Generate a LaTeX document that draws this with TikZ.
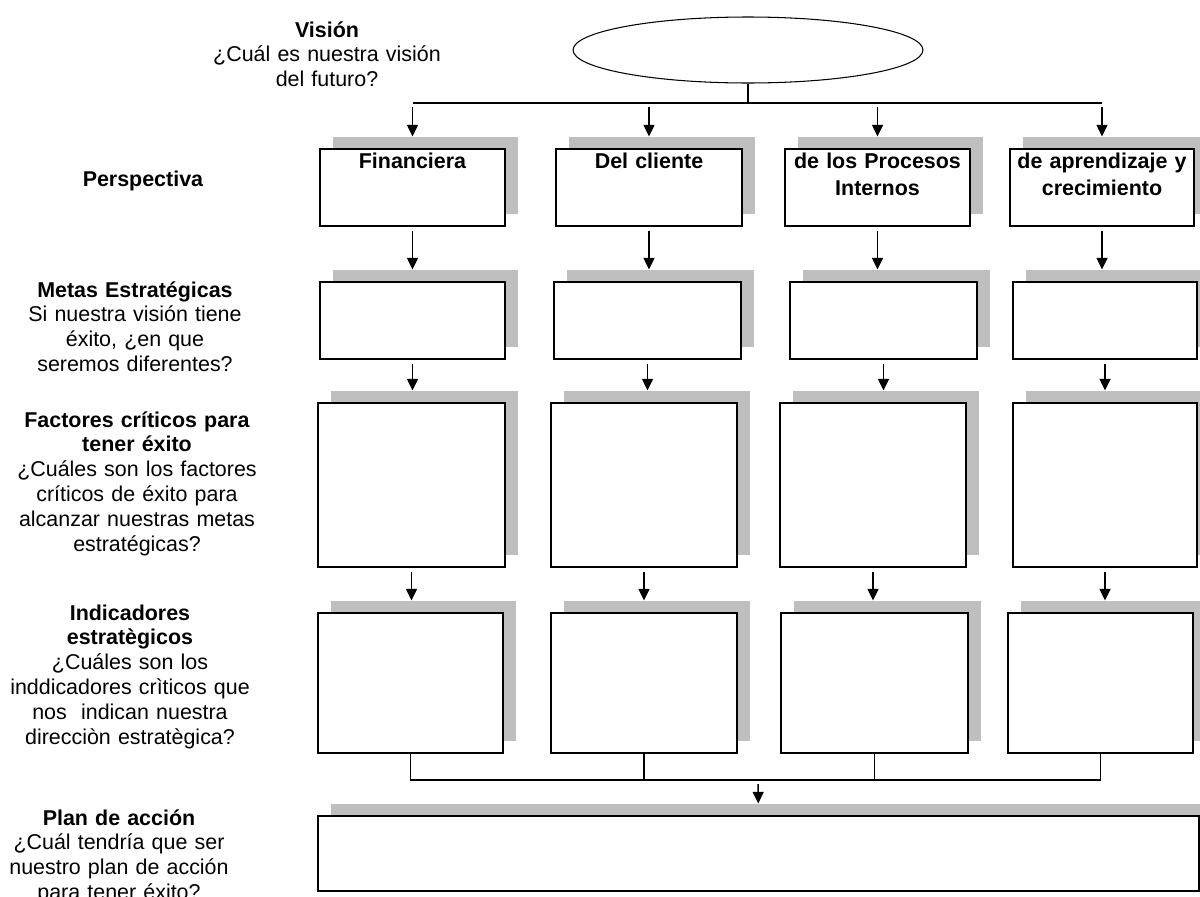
\documentclass[tikz,border=0pt]{standalone}
\usepackage{fontspec}
\setmainfont{Liberation Sans}
\usetikzlibrary{fit,shadows,shapes.geometric,arrows.meta}
\tikzset{
  caja/.style={draw, line width=0.6pt, fill=white, inner sep=0pt,
    drop shadow={shadow xshift=0.26cm, shadow yshift=0.24cm, fill=black!25, opacity=1}},
  titulo/.style={font=\bfseries\fontsize{12.2}{15.4}\selectfont, align=center,
    text width=3.6cm, inner sep=0pt, anchor=base},
  etiqueta/.style={font=\fontsize{12.2}{14.2}\selectfont, align=center,
    text width=5.2cm, inner sep=0pt, anchor=base},
  flecha/.style={->, line width=0.9pt, shorten <=0.08cm, shorten >=0.24cm},
  linea/.style={line width=0.6pt}
}
\begin{document}
\begin{tikzpicture}[>={Triangle[length=6.6pt,width=6.2pt]}, x=0.02cm, y=-0.02cm]
\useasboundingbox (0,0) rectangle (1200,896);
% Vision
\node[draw, ellipse, line width=0.6pt, minimum width=7cm, minimum height=1.32cm, inner sep=0pt] (vis) at (748,50) {};
% Perspectivas
\node[caja, fit={(320,149) (505,226)}] (fin) {};
\node[caja, fit={(556,149) (742,226)}] (cli) {};
\node[caja, fit={(785,149) (970,226)}] (pro) {};
\node[caja, fit={(1010,149) (1194,226)}] (apr) {};
\node[titulo] at ([yshift=-0.4cm]fin.north) {Financiera};
\node[titulo] at ([yshift=-0.4cm]cli.north) {Del cliente};
\node[titulo] at ([yshift=-0.4cm]pro.north) {de los Procesos\\Internos};
\node[titulo] at ([yshift=-0.4cm]apr.north) {de aprendizaje y\\crecimiento};
% Metas
\node[caja, fit={(320,282) (505,359)}] (met1) {};
\node[caja, fit={(554,282) (741,359)}] (met2) {};
\node[caja, fit={(790,282) (977,359)}] (met3) {};
\node[caja, fit={(1013,282) (1197,359)}] (met4) {};
% Factores
\node[caja, fit={(318,403) (505,567)}] (fac1) {};
\node[caja, fit={(551,403) (737,567)}] (fac2) {};
\node[caja, fit={(780,403) (966,567)}] (fac3) {};
\node[caja, fit={(1013,403) (1197,567)}] (fac4) {};
% Indicadores
\node[caja, fit={(318,613) (503,753)}] (ind1) {};
\node[caja, fit={(551,613) (737,753)}] (ind2) {};
\node[caja, fit={(781,613) (968,753)}] (ind3) {};
\node[caja, fit={(1008,613) (1193,753)}] (ind4) {};
% Plan
\node[caja, fit={(318,816) (1199,891)}] (plan) {};
% etiquetas
\node[etiqueta] (lvis) at (327,37) {\textbf{Visión}\\¿Cuál es nuestra visión\\del futuro?};
\node[etiqueta] (lper) at (143,186) {\textbf{Perspectiva}};
\node[etiqueta] (lmet) at (135,297) {\textbf{Metas Estratégicas}\\Si nuestra visión tiene\\éxito, ¿en que\\seremos diferentes?};
\node[etiqueta] (lfac) at (137,427) {\textbf{Factores críticos para}\\\textbf{tener éxito}\\¿Cuáles son los factores\\críticos de éxito para\\alcanzar nuestras metas\\estratégicas?};
\node[etiqueta] (lind) at (130,620) {\textbf{Indicadores}\\\textbf{estratègicos}\\¿Cuáles son los\\inddicadores crìticos que\\nos\ \ indican nuestra\\direcciòn estratègica?};
\node[etiqueta] (lpla) at (119,825) {\textbf{Plan de acción}\\¿Cuál tendría que ser\\nuestro plan de acción\\para tener éxito?};
% conectores
\coordinate (b1) at (748,103);
\draw[linea] (vis.south) -- (b1);
\draw[linea] (fin.north |- b1) -- (apr.north |- b1);
\foreach \c in {fin,cli,pro,apr}
  \draw[flecha] (\c.north |- b1) -- (\c.north);
\foreach \a/\b in {fin/met1,cli/met2,pro/met3,apr/met4,met1/fac1,met2/fac2,met3/fac3,met4/fac4,fac1/ind1,fac2/ind2,fac3/ind3,fac4/ind4}
  \draw[flecha] (\a.south) -- (\a.south |- \b.north);
\coordinate (b2) at (758,780);
\draw[linea] (ind1.south) |- (b2) -| (ind4.south);
\foreach \c in {ind2,ind3}
  \draw[linea] (\c.south) -- (\c.south |- b2);
\draw[flecha] (b2) -- (plan.north);
\end{tikzpicture}
\end{document}
